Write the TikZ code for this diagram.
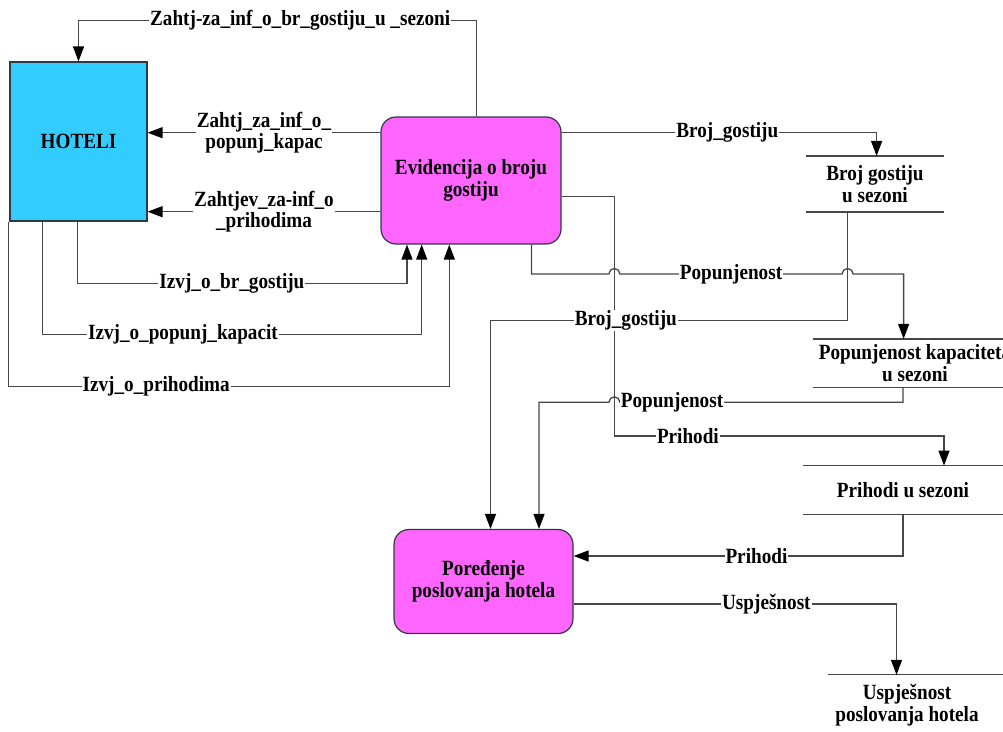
\documentclass[tikz,border=0pt]{standalone}
\usepackage{fontspec}
\setmainfont{Liberation Serif}[FakeStretch=0.884]
\usetikzlibrary{arrows.meta,calc}
\definecolor{hotcyan}{HTML}{33CCFF}
\definecolor{procpink}{HTML}{FF66FF}
\definecolor{wire}{HTML}{474747}
\definecolor{edge}{HTML}{2E3A44}
\newcommand\dfdfont{\fontsize{21.7}{21.5}\selectfont\bfseries}

\begin{document}
\begin{tikzpicture}[x=1pt,y=-1pt,
  font=\dfdfont,
  every node/.style={inner sep=0pt, align=center},
  entity/.style={draw=edge, fill=hotcyan, line width=1.2pt,
    minimum width=137pt, minimum height=159pt},
  proc/.style={draw=edge, fill=procpink, line width=1.2pt, rounded corners=15pt},
  store/.style={draw=none},
  storeline/.style={draw=wire, line width=1.3pt},
  flow/.style={draw=wire, line width=1.3pt,
    -{Triangle[length=15pt,width=11pt,color=black]}},
  lbl/.style={fill=white, inner xsep=1pt, inner ysep=0.5pt}
]
\useasboundingbox (0,0) rectangle (1003,731);

% external entity and processes
\node[entity] (hot) at (78.5,141.5) {HOTELI};
\node[proc, minimum width=180pt, minimum height=127pt] (evid) at (471,180.5)
  {Evidencija o broju\\gostiju};
\node[proc, minimum width=179pt, minimum height=104pt] (pored) at (483.5,581.5)
  {Poređenje\\poslovanja hotela};

% data stores
\node[store, minimum width=138pt, minimum height=55.7pt] (sBroj) at (875,184)
  {Broj gostiju\\u sezoni};
\node[store, minimum width=204pt, minimum height=48.3pt] (sPop) at (915,363.2)
  {Popunjenost kapaciteta\\u sezoni};
\node[store, minimum width=199pt, minimum height=48.3pt] (sPri) at (903,489.9)
  {Prihodi u sezoni};
\node[store, minimum width=158pt, minimum height=60pt] (sUsp) at (907,705)
  {Uspješnost\\poslovanja hotela};

\draw[storeline] (sBroj.north west) -- (sBroj.north east)
                 (sBroj.south west) -- (sBroj.south east);
\draw[storeline] (sPop.north west) -- ++(220,0)
                 (sPop.south west) -- ++(220,0);
\draw[storeline] (sPri.north west) -- ++(220,0)
                 (sPri.south west) -- ++(220,0);
\draw[storeline] (sUsp.north west) -- ++(220,0);

% bend points
\coordinate (kA) at (476.5,20.7);
\coordinate (yB) at (0,132.7);
\coordinate (yC) at (0,211.7);
\coordinate (kD1) at (77.3,283.3);  \coordinate (kD2) at (407,283.3);
\coordinate (kE1) at (42.7,334.3);  \coordinate (kE2) at (421.7,334.3);
\coordinate (kF1) at (8.5,386.7);   \coordinate (kF2) at (449.3,386.7);
\coordinate (kG) at (876.6,132.3);
\coordinate (kH1) at (614.4,196.7); \coordinate (kH2) at (614.4,436);
\coordinate (kH3) at (944,436);
\coordinate (kI1) at (531.4,274);   \coordinate (kI2) at (903.6,274);
\coordinate (kJ1) at (847.6,320.7); \coordinate (kJ2) at (490.5,320.7);
\coordinate (kK1) at (903,402.3);   \coordinate (kK2) at (539,402.3);
\coordinate (kL) at (903,556);
\coordinate (kM) at (896.5,604);

% requests to the hotels
\draw[flow] (kA |- evid.north) -- (kA)
  -- node[lbl,pos=0.443]{Zahtj-za\_inf\_o\_br\_gostiju\_u \_sezoni} (kA -| hot.north)
  -- (hot.north);
\draw[flow] (evid.west |- yB) -- node[lbl]{Zahtj\_za\_inf\_o\_\\popunj\_kapac} (hot.east |- yB);
\draw[flow] (evid.west |- yC) -- node[lbl]{Zahtjev\_za-inf\_o\\\_prihodima} (hot.east |- yC);

% reports from the hotels
\draw[flow] (kD1 |- hot.south) -- (kD1)
  -- node[lbl,pos=0.469]{Izvj\_o\_br\_gostiju} (kD2) -- (kD2 |- evid.south);
\draw[flow] (kE1 |- hot.south) -- (kE1)
  -- node[lbl,pos=0.370]{Izvj\_o\_popunj\_kapacit} (kE2) -- (kE2 |- evid.south);
\draw[flow] (kF1 |- hot.south) -- (kF1)
  -- node[lbl,pos=0.335]{Izvj\_o\_prihodima} (kF2) -- (kF2 |- evid.south);

% records into the stores
\draw[flow] (evid.east |- kG) -- node[lbl,pos=0.526]{Broj\_gostiju} (kG) -- (kG |- sBroj.north);
\draw[flow] (evid.east |- kH1) -- (kH1) -- (kH2)
  -- node[lbl,pos=0.223]{Prihodi} (kH3) -- (kH3 |- sPri.north);
\draw[flow] (kI1 |- evid.south) -- (kI1)
  -- ($(kH1 |- kI1)+(-5.5,0)$) arc[start angle=180,end angle=0,radius=5.5pt]
  -- node[lbl]{Popunjenost} ($(kJ1 |- kI1)+(-5.5,0)$)
  arc[start angle=180,end angle=0,radius=5.5pt]
  -- (kI2) -- (kI2 |- sPop.north);

% stores into the comparison
\draw[flow] (kJ1 |- sBroj.south) -- (kJ1)
  -- node[lbl,pos=0.621]{Broj\_gostiju} (kJ2) -- (kJ2 |- pored.north);
\draw[flow] (kK1 |- sPop.south) -- (kK1)
  -- node[lbl,pos=0.816]{Popunjenost} ($(kH1 |- kK1)+(5.5,0)$)
  arc[start angle=0,end angle=180,radius=5.5pt]
  -- (kK2) -- (kK2 |- pored.north);
\draw[flow] (kL |- sPri.south) -- (kL)
  -- node[lbl,pos=0.445]{Prihodi} (pored.east |- kL);
\draw[flow] (pored.east |- kM) -- node[lbl,pos=0.597]{Uspješnost} (kM) -- (kM |- sUsp.north);
\end{tikzpicture}
\end{document}
